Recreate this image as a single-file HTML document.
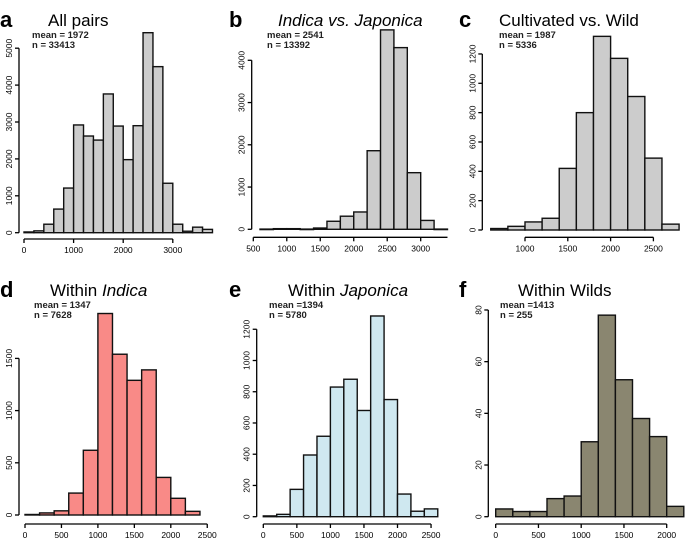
<!DOCTYPE html>
<html><head><meta charset="utf-8"><style>
body{margin:0;background:#fff;}
svg{display:block;font-family:"Liberation Sans",sans-serif;}
</style></head><body>
<svg id="fig" width="685" height="540" viewBox="0 0 685 540"></svg>
<script>
const binsA=[0,200,400,600,800,1000,1200,1400,1600,1800,2000,2200,2400,2600,2800,3000,3200,3400,3600];
const countsA=[20,50,230,640,1210,2920,2620,2510,3760,2890,1980,2900,5420,4500,1340,230,40,150,90];
const binsB=[600,800,1000,1200,1400,1600,1800,2000,2200,2400,2600,2800,3000,3200];
const countsB=[5,15,15,5,30,190,310,410,1860,4720,4300,1340,210,5];
const binsC=[600,800,1000,1200,1400,1600,1800,2000,2200,2400,2600];
const countsC=[10,25,55,80,420,800,1320,1170,910,490,40];
const binsD=[0,200,400,600,800,1000,1200,1400,1600,1800,2000,2200];
const countsD=[5,20,40,210,620,1930,1540,1290,1390,360,160,35];
const binsE=[0,200,400,600,800,1000,1200,1400,1600,1800,2000,2200,2400];
const countsE=[5,15,175,395,515,830,880,680,1285,750,145,35,50];
const binsF=[0,200,400,600,800,1000,1200,1400,1600,1800,2000];
const countsF=[3,2,2,7,8,29,78,53,38,31,4];
const xTicksA=[0,1000,2000,3000], yTicksA=[0,1000,2000,3000,4000,5000];
const xTicksB=[500,1000,1500,2000,2500,3000], yTicksB=[0,1000,2000,3000,4000];
const xTicksC=[1000,1500,2000,2500], yTicksC=[0,200,400,600,800,1000,1200];
const xTicksD=[0,500,1000,1500,2000,2500], yTicksD=[0,500,1000,1500];
const xTicksE=[0,500,1000,1500,2000,2500], yTicksE=[0,200,400,600,800,1000,1200];
const xTicksF=[0,500,1000,1500,2000], yTicksF=[0,20,40,60,80];
const binWidth=200;

const NS="http://www.w3.org/2000/svg";
const svg=document.getElementById('fig');
function mk(tag,attrs,parent){const e=document.createElementNS(NS,tag);for(const k in attrs)e.setAttribute(k,attrs[k]);(parent||svg).appendChild(e);return e;}

const panels=[
 {id:'a',title:'All pairs',ital:false,lx:0,ly:27,tx:48,bins:binsA,counts:countsA,xt:xTicksA,yt:yTicksA,x0:0,px0:24,xs:0.0496,y0:232.7,ys:0.0369,yAx:19,xAxY:239,fill:'#cccccc',mean:'mean = 1972',n:'n = 33413',mx:32},
 {id:'b',title:'Indica vs. Japonica',ital:true,lx:229,ly:27,tx:278,bins:binsB,counts:countsB,xt:xTicksB,yt:yTicksB,x0:500,px0:253.3,xs:0.06696,y0:229.3,ys:0.04225,yAx:251.7,xAxY:237.3,fill:'#cccccc',mean:'mean = 2541',n:'n = 13392',mx:267,axEnd:3400},
 {id:'c',title:'Cultivated vs. Wild',ital:false,lx:459,ly:27,tx:499,bins:binsC,counts:countsC,xt:xTicksC,yt:yTicksC,x0:1000,px0:525,xs:0.0856,y0:230,ys:0.1467,yAx:482.3,xAxY:237.3,fill:'#cccccc',mean:'mean = 1987',n:'n = 5336',mx:499},
 {id:'d',title:'Within ',it2:'Indica',lx:0,ly:297,tx:50,bins:binsD,counts:countsD,xt:xTicksD,yt:yTicksD,x0:0,px0:25,xs:0.0729,y0:515,ys:0.1044,yAx:19,xAxY:524,fill:'#f98a87',mean:'mean = 1347',n:'n = 7628',mx:34},
 {id:'e',title:'Within ',it2:'Japonica',lx:229,ly:297,tx:288,bins:binsE,counts:countsE,xt:xTicksE,yt:yTicksE,x0:0,px0:263.3,xs:0.0671,y0:516.7,ys:0.1562,yAx:256.7,xAxY:524,fill:'#cfe8f0',mean:'mean =1394',n:'n = 5780',mx:269},
 {id:'f',title:'Within Wilds',ital:false,lx:459,ly:297,tx:518,bins:binsF,counts:countsF,xt:xTicksF,yt:yTicksF,x0:0,px0:495.7,xs:0.0855,y0:516.7,ys:2.584,yAx:488.3,xAxY:524,fill:'#8a8670',mean:'mean =1413',n:'n = 255',mx:500}
];

panels.forEach(p=>{
  const g=mk('g',{});
  
  
  const X=v=>p.px0+(v-p.x0)*p.xs;
  const Y=v=>p.y0-v*p.ys;
  const lab=mk('text',{x:p.lx,y:p.ly,'font-size':22,'font-weight':'bold'},g);lab.textContent=p.id;
  
  
  const t=mk('text',{x:p.tx,y:p.ly-1,'font-size':17},g);
  
  
  if(p.it2){const s1=mk('tspan',{},t);s1.textContent=p.title;const s2=mk('tspan',{'font-style':'italic'},t);s2.textContent=p.it2;}
  else{t.textContent=p.title;if(p.ital)t.setAttribute('font-style','italic');}
  const m=mk('text',{x:p.mx,y:p.ly+11,'font-size':9.5,'font-weight':'bold','fill':'#222'},g);m.textContent=p.mean;
  
  
  const n=mk('text',{x:p.mx,y:p.ly+21,'font-size':9.5,'font-weight':'bold','fill':'#222'},g);n.textContent=p.n;
  
  
  p.bins.forEach((b,i)=>{
    const h=p.counts[i]*p.ys;
    const r=mk('rect',{x:X(b),y:Y(p.counts[i]),width:binWidth*p.xs,height:Math.max(h,0.5),fill:p.fill,stroke:'#111','stroke-width':1.4},g);
    
    
  });
  const xa0=p.xt[0], xa1=p.axEnd||p.xt[p.xt.length-1];
  const xl=mk('line',{x1:X(xa0),x2:X(xa1),y1:p.xAxY,y2:p.xAxY,stroke:'#000','stroke-width':1.3},g);
  
  
  p.xt.forEach(v=>{
    mk('line',{x1:X(v),x2:X(v),y1:p.xAxY,y2:p.xAxY+4,stroke:'#000','stroke-width':1.3},g);
    const tt=mk('text',{x:X(v),y:p.xAxY+14,'font-size':8.5,'text-anchor':'middle'},g);tt.textContent=v;
    
    
  });
  const yl=mk('line',{x1:p.yAx,x2:p.yAx,y1:Y(p.yt[0]),y2:Y(p.yt[p.yt.length-1]),stroke:'#000','stroke-width':1.3},g);
  
  
  p.yt.forEach(v=>{
    mk('line',{x1:p.yAx-4,x2:p.yAx,y1:Y(v),y2:Y(v),stroke:'#000','stroke-width':1.3},g);
    const tx=p.yAx-7, ty=Y(v);
    const tt=mk('text',{x:tx,y:ty,'font-size':8.5,'text-anchor':'middle',transform:`rotate(-90 ${tx} ${ty})`},g);tt.textContent=v;
    
    
  });
});
</script>
</body></html>
